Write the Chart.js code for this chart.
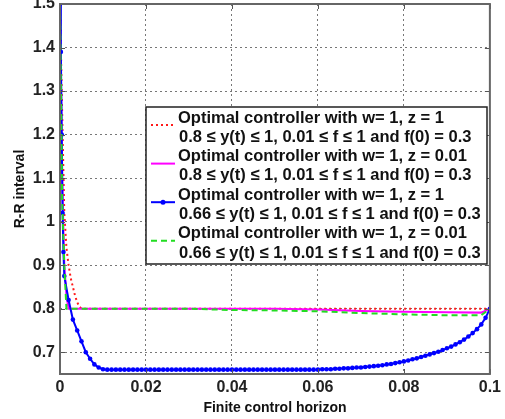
<!DOCTYPE html>
<html>
<head>
<meta charset="utf-8">
<script src="https://cdn.jsdelivr.net/npm/chart.js@4.4.0/dist/chart.umd.min.js"></script>
<style>
  html, body { margin: 0; padding: 0; background: #fff; }
  #wrap { width: 505px; height: 419px; }
</style>
</head>
<body>
<div id="wrap"><canvas id="rrChart" width="505" height="419"></canvas></div>
<script>
// 数据
const yTicks = [0.7, 0.8, 0.9, 1, 1.1, 1.2, 1.3, 1.4, 1.5];
const xTicks = [0, 0.02, 0.04, 0.06, 0.08, 0.1];

const legendLabels = [
    ['Optimal controller with w= 1, z = 1', '0.8 \u2264 y(t) \u2264 1, 0.01 \u2264 f \u2264 1 and f(0) = 0.3'],
    ['Optimal controller with w= 1, z = 0.01', '0.8 \u2264 y(t) \u2264 1, 0.01 \u2264 f \u2264 1 and f(0) = 0.3'],
    ['Optimal controller with w= 1, z = 1', '0.66 \u2264 y(t) \u2264 1, 0.01 \u2264 f \u2264 1 and f(0) = 0.3'],
    ['Optimal controller with w= 1, z = 0.01', '0.66 \u2264 y(t) \u2264 1, 0.01 \u2264 f \u2264 1 and f(0) = 0.3']
];

// red dotted: z = 1, 0.8 bound
const redT  = [0, 0.0005, 0.001, 0.0015, 0.002, 0.0025, 0.003, 0.0035, 0.004, 0.0045, 0.005, 0.05, 0.1];
const redRR = [1.5, 1.25, 1.02, 0.94, 0.9, 0.87, 0.85, 0.83, 0.815, 0.805, 0.8, 0.8, 0.8];

// magenta solid: z = 0.01, 0.8 bound
const magT  = [0, 0.0005, 0.001, 0.0015, 0.002, 0.05, 0.06, 0.07, 0.08, 0.09, 0.098, 0.1];
const magRR = [1.5, 1.1, 0.9, 0.83, 0.8, 0.8, 0.798, 0.795, 0.793, 0.792, 0.791, 0.8];

// blue with markers: z = 1, 0.66 bound
const blueT = [
    0, 0.0002, 0.0004, 0.0006, 0.0008,
    0.001, 0.002, 0.003, 0.004, 0.005, 0.006, 0.007, 0.008, 0.009, 0.010,
    0.011, 0.012, 0.013, 0.014, 0.015, 0.016, 0.017, 0.018, 0.019, 0.020,
    0.021, 0.022, 0.023, 0.024, 0.025, 0.026, 0.027, 0.028, 0.029, 0.030,
    0.031, 0.032, 0.033, 0.034, 0.035, 0.036, 0.037, 0.038, 0.039, 0.040,
    0.041, 0.042, 0.043, 0.044, 0.045, 0.046, 0.047, 0.048, 0.049, 0.050,
    0.051, 0.052, 0.053, 0.054, 0.055, 0.056, 0.057, 0.058, 0.059, 0.060,
    0.061, 0.062, 0.063, 0.064, 0.065, 0.066, 0.067, 0.068, 0.069, 0.070,
    0.071, 0.072, 0.073, 0.074, 0.075, 0.076, 0.077, 0.078, 0.079, 0.080,
    0.081, 0.082, 0.083, 0.084, 0.085, 0.086, 0.087, 0.088, 0.089, 0.090,
    0.091, 0.092, 0.093, 0.094, 0.095, 0.096, 0.097, 0.098, 0.099, 0.100
];
const blueRR = [
    1.5, 1.39, 1.2, 1.02, 0.93,
    0.875, 0.82, 0.775, 0.75, 0.725, 0.70, 0.685, 0.672, 0.665, 0.661,
    0.66, 0.66, 0.66, 0.66, 0.66, 0.66, 0.66, 0.66, 0.66, 0.66,
    0.66, 0.66, 0.66, 0.66, 0.66, 0.66, 0.66, 0.66, 0.66, 0.66,
    0.66, 0.66, 0.66, 0.66, 0.66, 0.66, 0.66, 0.66, 0.66, 0.66,
    0.66, 0.66, 0.66, 0.66, 0.66, 0.66, 0.66, 0.66, 0.66, 0.66,
    0.66, 0.66, 0.66, 0.66, 0.66, 0.66, 0.66, 0.66, 0.66, 0.66,
    0.661, 0.661, 0.661, 0.662, 0.662, 0.663, 0.663, 0.664, 0.665, 0.665,
    0.666, 0.667, 0.668, 0.669, 0.670, 0.672, 0.673, 0.675, 0.677, 0.679,
    0.681, 0.684, 0.686, 0.689, 0.692, 0.695, 0.698, 0.701, 0.705, 0.709,
    0.713, 0.718, 0.723, 0.729, 0.736, 0.744, 0.753, 0.764, 0.779, 0.80
];

// green dashed: z = 0.01, 0.66 bound
const greenT  = [0, 0.0005, 0.001, 0.0015, 0.03, 0.04, 0.05, 0.06, 0.07, 0.08, 0.09, 0.098, 0.1];
const greenRR = [1.5, 1.05, 0.9, 0.8, 0.8, 0.797, 0.796, 0.794, 0.79, 0.787, 0.785, 0.785, 0.8];

const FONT = "'Liberation Sans', Arial, sans-serif";

function toPoints(xs, ys) {
    return xs.map((x, i) => ({ x: x, y: ys[i] }));
}

// 边框, 内刻度, 图例
const framePlugin = {
    id: 'frame',
    afterDatasetsDraw(chart) {
        const { ctx, chartArea: a, scales } = chart;
        ctx.save();
        // inside tick marks
        ctx.strokeStyle = '#555';
        ctx.lineWidth = 1;
        ctx.beginPath();
        xTicks.forEach(v => {
            const px = Math.round(scales.x.getPixelForValue(v)) + 0.5;
            ctx.moveTo(px, a.top); ctx.lineTo(px, a.top + 5);
            ctx.moveTo(px, a.bottom); ctx.lineTo(px, a.bottom - 5);
        });
        yTicks.forEach(v => {
            const py = Math.round(scales.y.getPixelForValue(v)) + 0.5;
            ctx.moveTo(a.left, py); ctx.lineTo(a.left + 5, py);
            ctx.moveTo(a.right, py); ctx.lineTo(a.right - 5, py);
        });
        ctx.stroke();
        // box
        ctx.strokeStyle = '#666';
        ctx.lineWidth = 2;
        ctx.strokeRect(a.left, a.top, a.right - a.left, a.bottom - a.top);

        // legend box
        const bx = a.left + 86, by = a.top + 103, bw = 341, bh = 157;
        ctx.fillStyle = '#fff';
        ctx.fillRect(bx, by, bw, bh);
        ctx.strokeStyle = '#222';
        ctx.lineWidth = 1.5;
        ctx.strokeRect(bx, by, bw, bh);

        ctx.font = 'bold 16.5px ' + FONT;
        ctx.fillStyle = '#111';
        ctx.textBaseline = 'middle';
        const lineH = 19.3;
        chart.data.datasets.forEach((ds, i) => {
            const y1 = by + 11 + i * 2 * lineH;
            const y2 = y1 + lineH;
            const symY = y1 + 7;
            ctx.save();
            ctx.strokeStyle = ds.borderColor;
            ctx.lineWidth = ds.borderWidth;
            ctx.setLineDash(ds.borderDash || []);
            ctx.beginPath();
            ctx.moveTo(bx + 5, symY);
            ctx.lineTo(bx + 29, symY);
            ctx.stroke();
            if (ds.pointRadius > 0) {
                ctx.setLineDash([]);
                ctx.fillStyle = ds.pointBackgroundColor;
                ctx.beginPath();
                ctx.arc(bx + 17, symY, 2.5, 0, Math.PI * 2);
                ctx.fill();
            }
            ctx.restore();
            ctx.fillText(legendLabels[i][0], bx + 32, y1);
            ctx.fillText(legendLabels[i][1], bx + 33, y2);
        });
        ctx.restore();
    }
};

const ctx = document.getElementById('rrChart');
const rrChart = new Chart(ctx, {
    type: 'line',
    data: {
        datasets: [
            {
                label: legendLabels[0].join(' '),
                data: toPoints(redT, redRR),
                borderColor: '#ff1a1a',
                borderWidth: 2,
                borderDash: [2, 3],
                pointRadius: 0,
                order: 4
            },
            {
                label: legendLabels[1].join(' '),
                data: toPoints(magT, magRR),
                borderColor: '#ff00ff',
                borderWidth: 2,
                pointRadius: 0,
                order: 3
            },
            {
                label: legendLabels[2].join(' '),
                data: toPoints(blueT, blueRR),
                borderColor: '#0000ff',
                borderWidth: 2,
                pointRadius: 2.3,
                pointBackgroundColor: '#0000ff',
                pointBorderColor: '#0000ff',
                pointBorderWidth: 0,
                order: 2
            },
            {
                label: legendLabels[3].join(' '),
                data: toPoints(greenT, greenRR),
                borderColor: '#22dd22',
                borderWidth: 2,
                borderDash: [6, 4],
                pointRadius: 0,
                order: 1
            }
        ]
    },
    options: {
        responsive: false,
        animation: false,
        layout: { padding: { top: 4, right: 15, left: 0, bottom: 0 } },
        plugins: {
            legend: { display: false },
            tooltip: { enabled: false }
        },
        elements: { line: { tension: 0 } },
        scales: {
            x: {
                type: 'linear',
                min: 0,
                max: 0.1,
                afterBuildTicks: s => { s.ticks = xTicks.map(v => ({ value: v })); },
                afterFit: s => { s.height = 45; },
                ticks: {
                    color: '#222',
                    font: { family: FONT, size: 16, weight: 'bold' },
                    padding: 4,
                    maxRotation: 0,
                    callback: v => String(Number(v.toFixed(3)))
                },
                grid: { color: '#777', lineWidth: 1, drawTicks: false },
                border: { display: false, dash: [2, 3] },
                title: {
                    display: true,
                    text: 'Finite control horizon',
                    color: '#111',
                    font: { family: FONT, size: 14, weight: 'bold' },
                    padding: { top: 0, bottom: 2 }
                }
            },
            y: {
                type: 'linear',
                min: 0.65,
                max: 1.5,
                afterBuildTicks: s => { s.ticks = yTicks.map(v => ({ value: v })); },
                afterFit: s => { s.width = 60; s.paddingTop = 0; s.paddingBottom = 0; },
                ticks: {
                    color: '#222',
                    font: { family: FONT, size: 16, weight: 'bold' },
                    padding: 5,
                    callback: v => String(Number(v.toFixed(2)))
                },
                grid: { color: '#777', lineWidth: 1, drawTicks: false },
                border: { display: false, dash: [2, 3] },
                title: {
                    display: true,
                    text: 'R-R interval',
                    color: '#111',
                    font: { family: FONT, size: 14, weight: 'bold' },
                    padding: { top: 12, bottom: 0 }
                }
            }
        }
    },
    plugins: [framePlugin]
});
</script>
</body>
</html>
